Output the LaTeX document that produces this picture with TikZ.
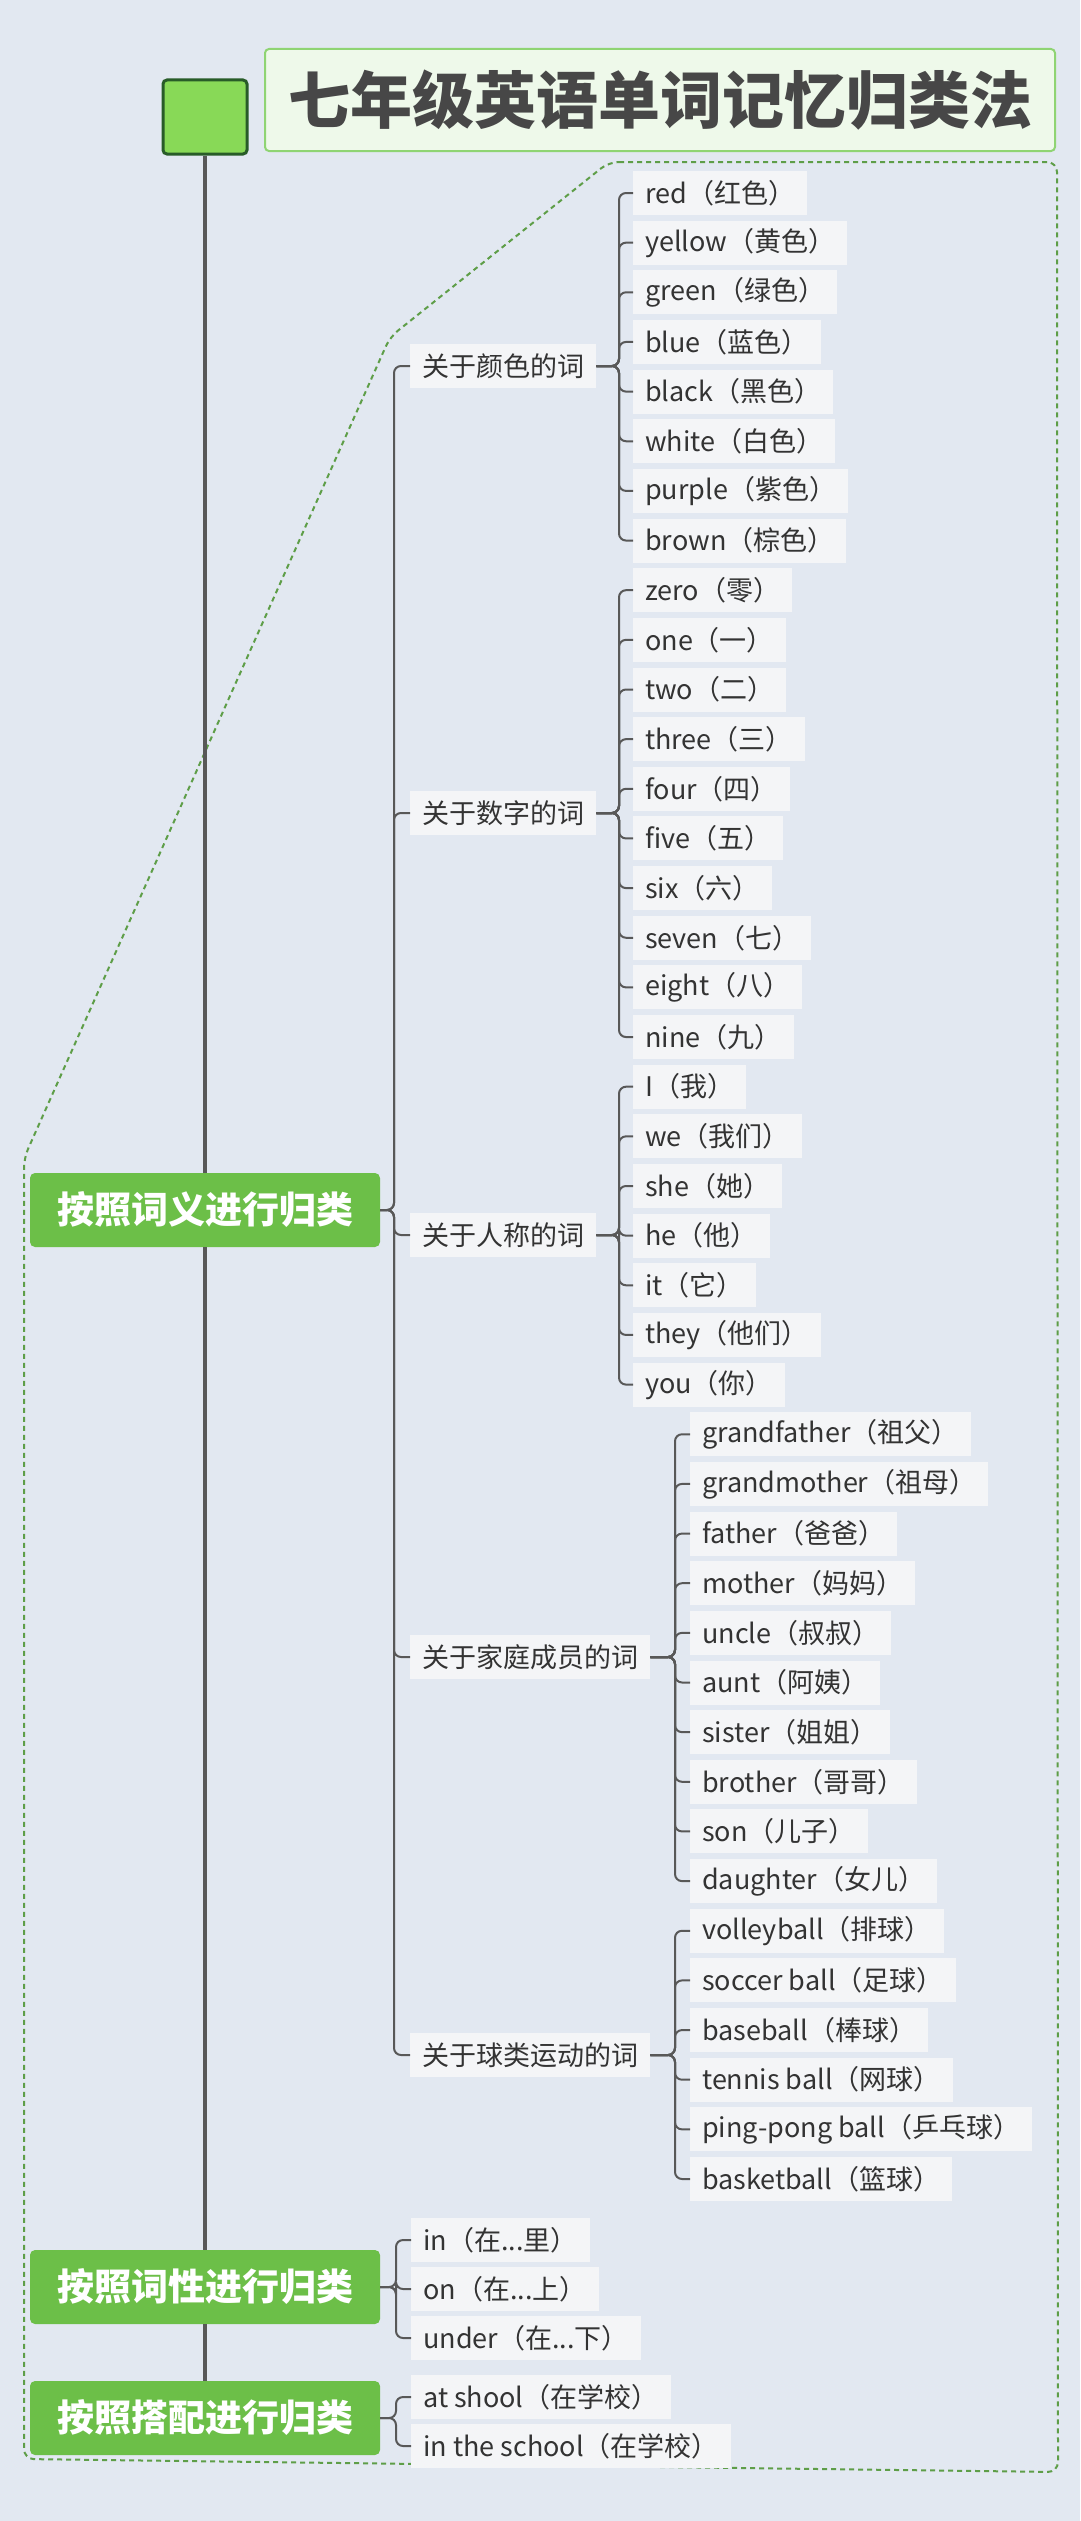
\documentclass[tikz,border=0pt]{standalone}
\usepackage{fontspec}
\setmainfont{Noto Sans CJK SC}
\usepackage{tikz}

\definecolor{bgblue}{RGB}{226,232,241}
\definecolor{leafbg}{RGB}{244,245,247}
\definecolor{inkgray}{RGB}{51,51,51}
\definecolor{linegray}{RGB}{88,88,88}
\definecolor{catgreen}{RGB}{108,191,72}
\definecolor{titlefill}{RGB}{238,249,234}
\definecolor{titleline}{RGB}{143,212,115}
\definecolor{rootfill}{RGB}{136,217,87}
\definecolor{rootline}{RGB}{40,92,40}
\definecolor{framegreen}{RGB}{94,158,72}
\newcommand{\tdots}{...}

\begin{document}
\begin{tikzpicture}[x=1pt,y=-1pt,
    leaf/.style={fill=leafbg, text=inkgray, anchor=west, font=\fontsize{27}{30}\selectfont,
      minimum height=44pt, inner xsep=12pt, inner ysep=0pt},
    cat/.style={fill=catgreen, text=white, rounded corners=5pt, minimum width=350pt,
      minimum height=74pt, font=\fontsize{37}{40}\selectfont\bfseries},
    link/.style={draw=linegray, line width=2pt, rounded corners=7pt},
    trunk/.style={draw=linegray, line width=3.5pt},
    frame/.style={draw=framegreen, line width=2pt, dash pattern=on 5pt off 4pt, rounded corners=10pt}]
    \useasboundingbox (0,0) rectangle (1080,2521);
    \fill[bgblue] (0,0) rectangle (1080,2521);
    \draw[frame] (609,162) -- (1057,162) -- (1058,2472) -- (24,2459) -- (24,1158) -- (390,337) -- cycle;

    % title and root
    \node[fill=rootfill, draw=rootline, line width=3pt, rounded corners=4pt,
      minimum width=84pt, minimum height=74pt] (root) at (205,117) {};
    \node[fill=titlefill, draw=titleline, line width=2pt, rounded corners=4pt, text=inkgray!90,
      minimum width=790pt, minimum height=102pt, font=\fontsize{62}{66}\selectfont\bfseries] (title) at (660,100) {七年级英语单词记忆归类法};

    % main branches
    \node[cat] (mean) at (205,1210) {按照词义进行归类};
    \node[cat] (pos) at (205,2287) {按照词性进行归类};
    \node[cat] (coll) at (205,2418) {按照搭配进行归类};
    \draw[trunk] (root.south) -- (mean.north);
    \draw[trunk] (mean.south) -- (pos.north);
    \draw[trunk] (pos.south) -- (coll.north);

    % sub branches
    \node[leaf] (col) at (410,366) {关于颜色的词};
    \node[leaf] (num) at (410,813) {关于数字的词};
    \node[leaf] (per) at (410,1235) {关于人称的词};
    \node[leaf] (fam) at (410,1657) {关于家庭成员的词};
    \node[leaf] (ball) at (410,2055) {关于球类运动的词};
    \foreach \s in {col,num,per,fam,ball}
      \draw[link] (\s.west) -- ++(-16,0) |- (mean.east);

    \foreach \word [count=\i] in {red（红色）,yellow（黄色）,green（绿色）,blue（蓝色）,
        black（黑色）,white（白色）,purple（紫色）,brown（棕色）} {
      \node[leaf] (col\i) at (633,{193+49.65*(\i-1)}) {\word};
      \draw[link] (col\i.west) -- ++(-14,0) |- (col.east);
    }
    \foreach \word [count=\i] in {zero（零）,one（一）,two（二）,three（三）,four（四）,
        five（五）,six（六）,seven（七）,eight（八）,nine（九）} {
      \node[leaf] (num\i) at (633,{193+49.65*(\i+7)}) {\word};
      \draw[link] (num\i.west) -- ++(-14,0) |- (num.east);
    }
    \foreach \word [count=\i] in {I（我）,we（我们）,she（她）,he（他）,it（它）,
        they（他们）,you（你）} {
      \node[leaf] (per\i) at (633,{193+49.65*(\i+17)}) {\word};
      \draw[link] (per\i.west) -- ++(-14,0) |- (per.east);
    }
    \foreach \word [count=\i] in {grandfather（祖父）,grandmother（祖母）,father（爸爸）,
        mother（妈妈）,uncle（叔叔）,aunt（阿姨）,sister（姐姐）,brother（哥哥）,
        son（儿子）,daughter（女儿）} {
      \node[leaf] (fam\i) at (690,{193+49.65*(\i+24)}) {\word};
      \draw[link] (fam\i.west) -- ++(-15,0) |- (fam.east);
    }
    \foreach \word [count=\i] in {volleyball（排球）,soccer ball（足球）,baseball（棒球）,
        tennis ball（网球）,ping-pong ball（乒乓球）,basketball（篮球）} {
      \node[leaf] (ball\i) at (690,{193+49.65*(\i+34)}) {\word};
      \draw[link] (ball\i.west) -- ++(-15,0) |- (ball.east);
    }
    \foreach \word [count=\i] in {in（在\tdots{}里）,on（在\tdots{}上）,under（在\tdots{}下）} {
      \node[leaf] (pos\i) at (411,{2240+49*(\i-1)}) {\word};
      \draw[link] (pos\i.west) -- ++(-15,0) |- (pos.east);
    }
    \foreach \word [count=\i] in {at shool（在学校）,in the school（在学校）} {
      \node[leaf] (coll\i) at (411,{2397+49*(\i-1)}) {\word};
      \draw[link] (coll\i.west) -- ++(-15,0) |- (coll.east);
    }
\end{tikzpicture}
\end{document}
